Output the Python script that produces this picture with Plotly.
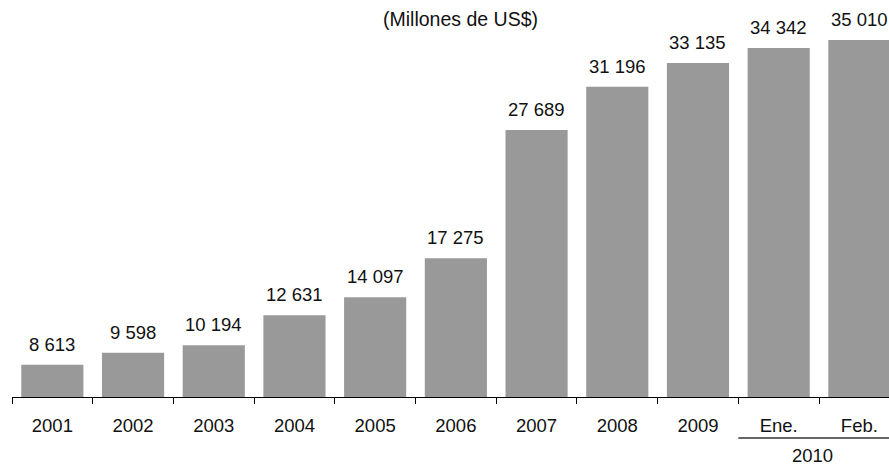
import plotly.graph_objects as go

categories = ["2001", "2002", "2003", "2004", "2005", "2006", "2007", "2008", "2009", "Ene.", "Feb."]
values = [8613, 9598, 10194, 12631, 14097, 17275, 27689, 31196, 33135, 34342, 35010]
value_labels = ["8 613", "9 598", "10 194", "12 631", "14 097", "17 275", "27 689", "31 196", "33 135", "34 342", "35 010"]
title_text = "(Millones de US$)"
group_label = "2010"

FONT = "Arial, Liberation Sans, sans-serif"
xs = list(range(len(categories)))

fig = go.Figure()
fig.add_trace(go.Bar(x=xs, y=values, width=0.77, marker=dict(color="#999999", line=dict(width=0)),
                     hoverinfo="skip"))

annotations = []
for x, v, t in zip(xs, values, value_labels):
    annotations.append(dict(x=x, y=v, text=t, showarrow=False, yanchor="bottom", yshift=8,
                            font=dict(family=FONT, size=18.5, color="#111111")))
annotations.append(dict(x=0.511, y=1.0, xref="paper", yref="paper", text=title_text, showarrow=False,
                        yanchor="top", yshift=-6, font=dict(family=FONT, size=19.5, color="#111111")))
annotations.append(dict(x=9.42, y=-0.147, xref="x", yref="paper", text=group_label, showarrow=False,
                        yanchor="middle", font=dict(family=FONT, size=18.5, color="#111111")))

fig.update_layout(
    width=889, height=466,
    margin=dict(l=12, r=0, t=0, b=69),
    paper_bgcolor="white", plot_bgcolor="white",
    showlegend=False,
    bargap=0.23,
    annotations=annotations,
    shapes=[dict(type="line", xref="x", yref="paper", x0=8.5, x1=10.5, y0=-0.103, y1=-0.103,
                 line=dict(color="#333333", width=1.5))],
    xaxis=dict(range=[-0.5, 10.367], tickmode="array", tickvals=xs, ticktext=categories,
               ticks="", showline=True, linecolor="black", linewidth=1, showgrid=False, zeroline=False,
               tickfont=dict(family=FONT, size=18.5, color="#111111"), ticklabelstandoff=12,
               minor=dict(tickmode="array", tickvals=[i - 0.5 for i in range(len(categories))],
                          ticks="outside", ticklen=6, tickcolor="black", tickwidth=1, showgrid=False)),
    yaxis=dict(range=[6000, 38250], visible=False, showgrid=False, zeroline=False),
)

fig.write_html("out.html", config={"displayModeBar": False},
               post_script="document.body.style.margin='0';document.body.style.padding='0';")
